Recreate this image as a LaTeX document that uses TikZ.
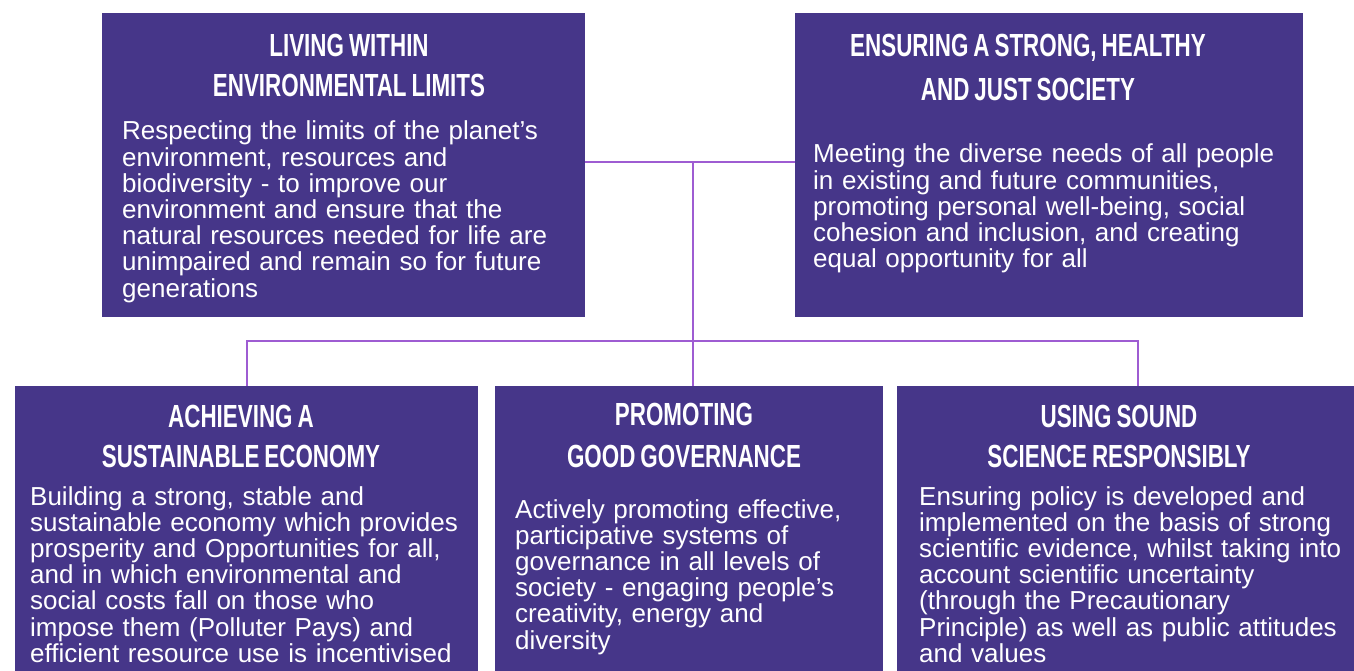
\documentclass[tikz,border=0pt]{standalone}
\usepackage{fontspec}
\setmainfont{Liberation Sans}
\newfontfamily\headfont[FakeStretch=0.7]{Liberation Sans Bold}
\usetikzlibrary{calc}
\definecolor{pillarfill}{RGB}{70,54,137}
\definecolor{linkpurple}{RGB}{158,92,210}
\tikzset{
  pillar/.style={fill=pillarfill,draw=none,anchor=north west,inner sep=0pt},
  pillarhead/.style={anchor=base,inner sep=0pt,text width=470pt,align=center,
    text=white,font=\headfont\fontsize{32}{40}\selectfont,
    execute at begin node={\spaceskip=5pt\relax}},
  pillarbody/.style={anchor=base west,inner sep=0pt,text width=470pt,align=left,
    text=white,font=\fontsize{26}{26.2}\selectfont},
  link/.style={draw=linkpurple,line width=2pt}
}
\begin{document}
\begin{tikzpicture}[x=1pt,y=-1pt]
\useasboundingbox (0,0) rectangle (1354,671);
\node[pillar,minimum width=483pt,minimum height=304pt](living)at(102,13){};
\node[pillar,minimum width=508pt,minimum height=304pt](society)at(795,13){};
\node[pillar,minimum width=463pt,minimum height=285pt](economy)at(15,386){};
\node[pillar,minimum width=388pt,minimum height=285pt](governance)at(495,386){};
\node[pillar,minimum width=482pt,minimum height=285pt](science)at(897,386){};
\coordinate(hub)at(693,162);
\coordinate(bar)at(693,341);
\draw[link](living.east|-hub)--(society.west|-hub);
\draw[link](hub)--(hub|-governance.north);
\draw[link](economy.north)|-(bar)-|(science.north);
\node[pillarhead](livinghead)at(349,57){LIVING WITHIN\\ENVIRONMENTAL LIMITS};
\node[pillarhead,font=\headfont\fontsize{32}{44}\selectfont](societyhead)at(1028,57)
  {ENSURING A STRONG, HEALTHY\\AND JUST SOCIETY};
\node[pillarhead](economyhead)at(241,427){ACHIEVING A\\SUSTAINABLE ECONOMY};
\node[pillarhead,font=\headfont\fontsize{32}{42}\selectfont](governancehead)at(684,425)
  {PROMOTING\\GOOD GOVERNANCE};
\node[pillarhead](sciencehead)at(1119,427){USING SOUND\\SCIENCE RESPONSIBLY};
\node[pillarbody](livingtext)at(122,140){Respecting the limits of the planet’s\\
  environment, resources and\\biodiversity - to improve our\\
  environment and ensure that the\\natural resources needed for life are\\
  unimpaired and remain so for future\\generations};
\node[pillarbody](societytext)at(813,163){Meeting the diverse needs of all people\\
  in existing and future communities,\\promoting personal well-being, social\\
  cohesion and inclusion, and creating\\equal opportunity for all};
\node[pillarbody](economytext)at(30,505){Building a strong, stable and\\
  sustainable economy which provides\\prosperity and Opportunities for all,\\
  and in which environmental and\\social costs fall on those who\\
  impose them (Polluter Pays) and\\efficient resource use is incentivised};
\node[pillarbody](governancetext)at(515,518){Actively promoting effective,\\
  participative systems of\\governance in all levels of\\
  society - engaging people’s\\creativity, energy and\\diversity};
\node[pillarbody](sciencetext)at(919,505){Ensuring policy is developed and\\
  implemented on the basis of strong\\scientific evidence, whilst taking into\\
  account scientific uncertainty\\(through the Precautionary\\
  Principle) as well as public attitudes\\and values};
\end{tikzpicture}
\end{document}
